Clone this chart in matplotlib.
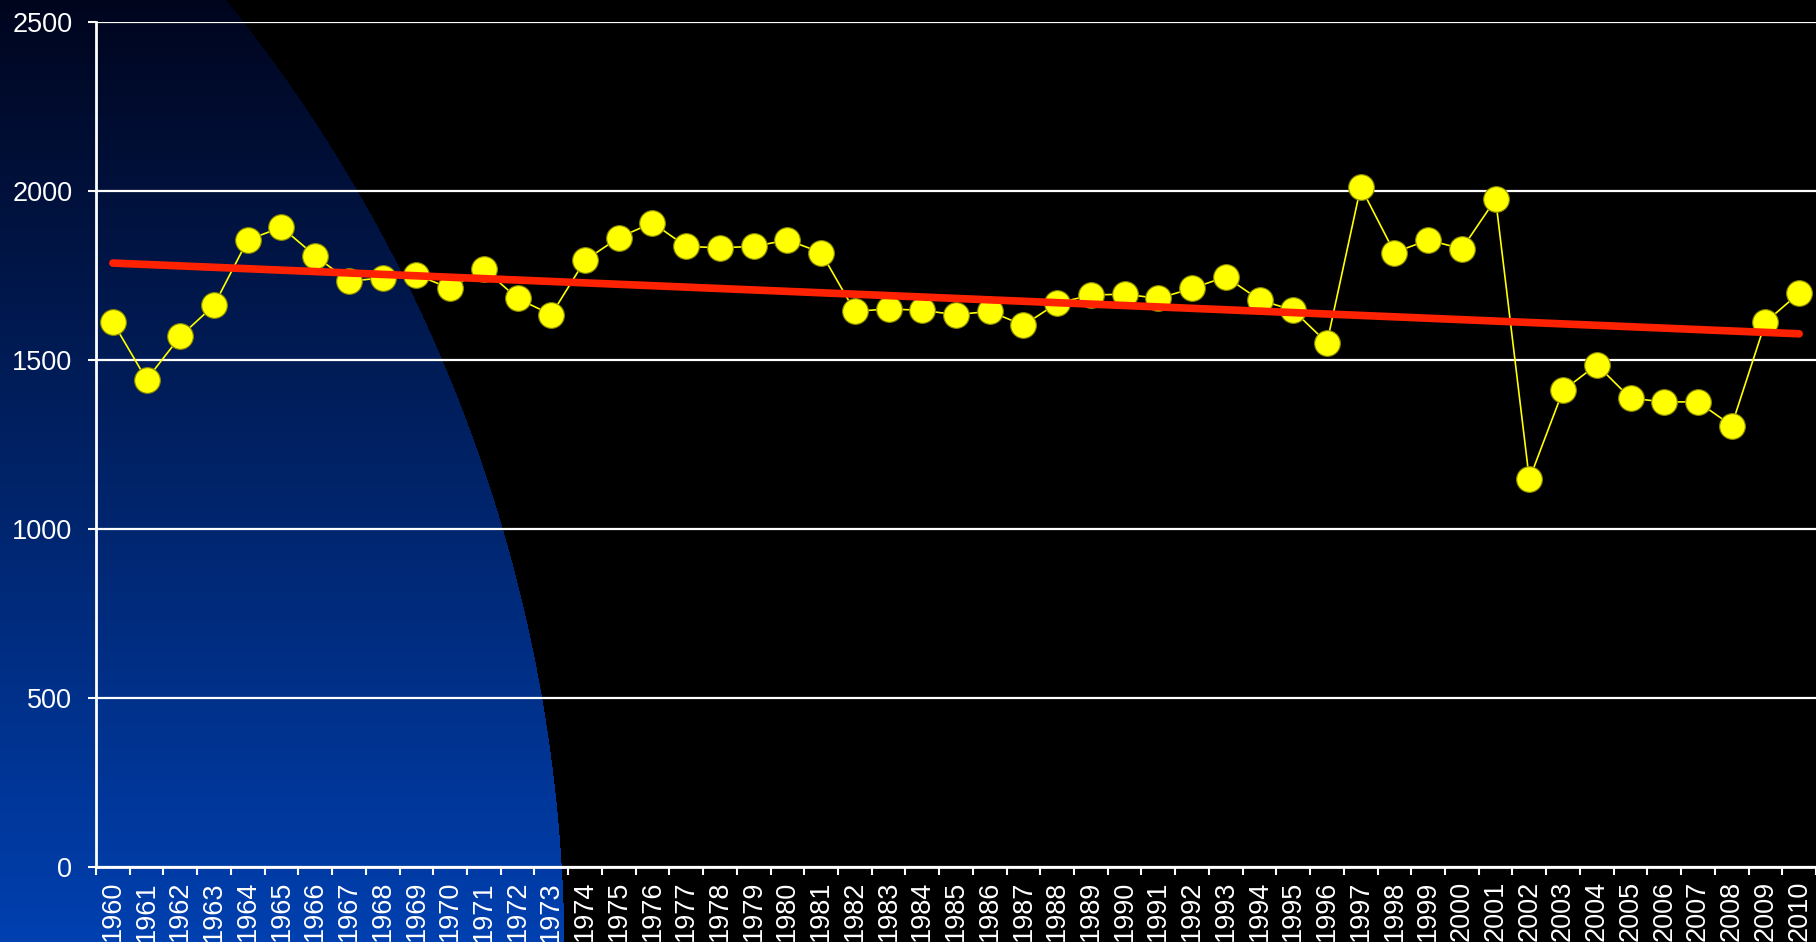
import numpy as np
import matplotlib.pyplot as plt

plt.rcParams['font.family'] = ['Liberation Sans', 'DejaVu Sans']

years = list(range(1960, 2011))
values = [1612, 1442, 1570, 1662, 1855, 1893, 1808, 1733, 1743, 1752, 1712, 1770, 1682, 1634,
          1795, 1862, 1906, 1836, 1832, 1836, 1855, 1818, 1644, 1651, 1647, 1634, 1644, 1603,
          1668, 1692, 1695, 1682, 1712, 1746, 1678, 1647, 1551, 2012, 1818, 1855, 1829, 1976,
          1147, 1410, 1486, 1387, 1376, 1376, 1306, 1612, 1698]
yticks = [0, 500, 1000, 1500, 2000, 2500]

W, H = 1816, 942
fig = plt.figure(figsize=(W / 100, H / 100), dpi=100, facecolor='black')

# background: black with blue round blob at lower left
bg = fig.add_axes([0, 0, 1, 1], zorder=0)
yy, xx = np.mgrid[0:H, 0:W]
t = yy / (H - 1)
img = np.zeros((H, W, 3))
inside = (xx + 963) ** 2 + (yy - 958) ** 2 <= 1527 ** 2
img[..., 1] = np.where(inside, (5 + t * 59) / 255, 0)
img[..., 2] = np.where(inside, (30 + t * 146) / 255, 0)
bg.imshow(img, aspect='auto', interpolation='bilinear')
bg.axis('off')

ax = fig.add_axes([96 / W, 75 / H, 1 - 96 / W, (867 - 22) / H], zorder=1)
ax.set_facecolor('none')

x = np.arange(len(years))
ax.plot(x, values, color='#ffff00', linewidth=1.2, marker='o', markersize=18.5,
        markerfacecolor='#ffff00', markeredgecolor='#8a8a00', markeredgewidth=0.8, zorder=3)

k, b = np.polyfit(x, values, 1)
ax.plot([x[0], x[-1]], [k * x[0] + b, k * x[-1] + b], color='#ff2200', linewidth=5.5,
        solid_capstyle='round', zorder=4)

ax.set_xlim(-0.5, len(years) - 0.5)
ax.set_ylim(0, 2500)
ax.set_yticks(yticks)
ax.yaxis.grid(True, color='white', linewidth=1.6)
ax.set_axisbelow(True)

ax.set_xticks(x)
ax.set_xticklabels([str(yv) for yv in years], rotation=90, va='top')
ax.set_xticks(np.arange(-0.5, len(years)), minor=True)
ax.tick_params(axis='x', which='major', length=0, pad=10, labelsize=19.5, colors='white')
ax.tick_params(axis='x', which='minor', length=6, width=1.5, color='white', direction='out')
ax.tick_params(axis='y', length=6, width=1.5, color='white', pad=11, labelsize=19.5,
               labelcolor='white')

for s in ['top', 'right']:
    ax.spines[s].set_visible(False)
for s in ['left', 'bottom']:
    ax.spines[s].set_color('white')
    ax.spines[s].set_linewidth(2)

fig.savefig('out.png', dpi=100, facecolor='black')
